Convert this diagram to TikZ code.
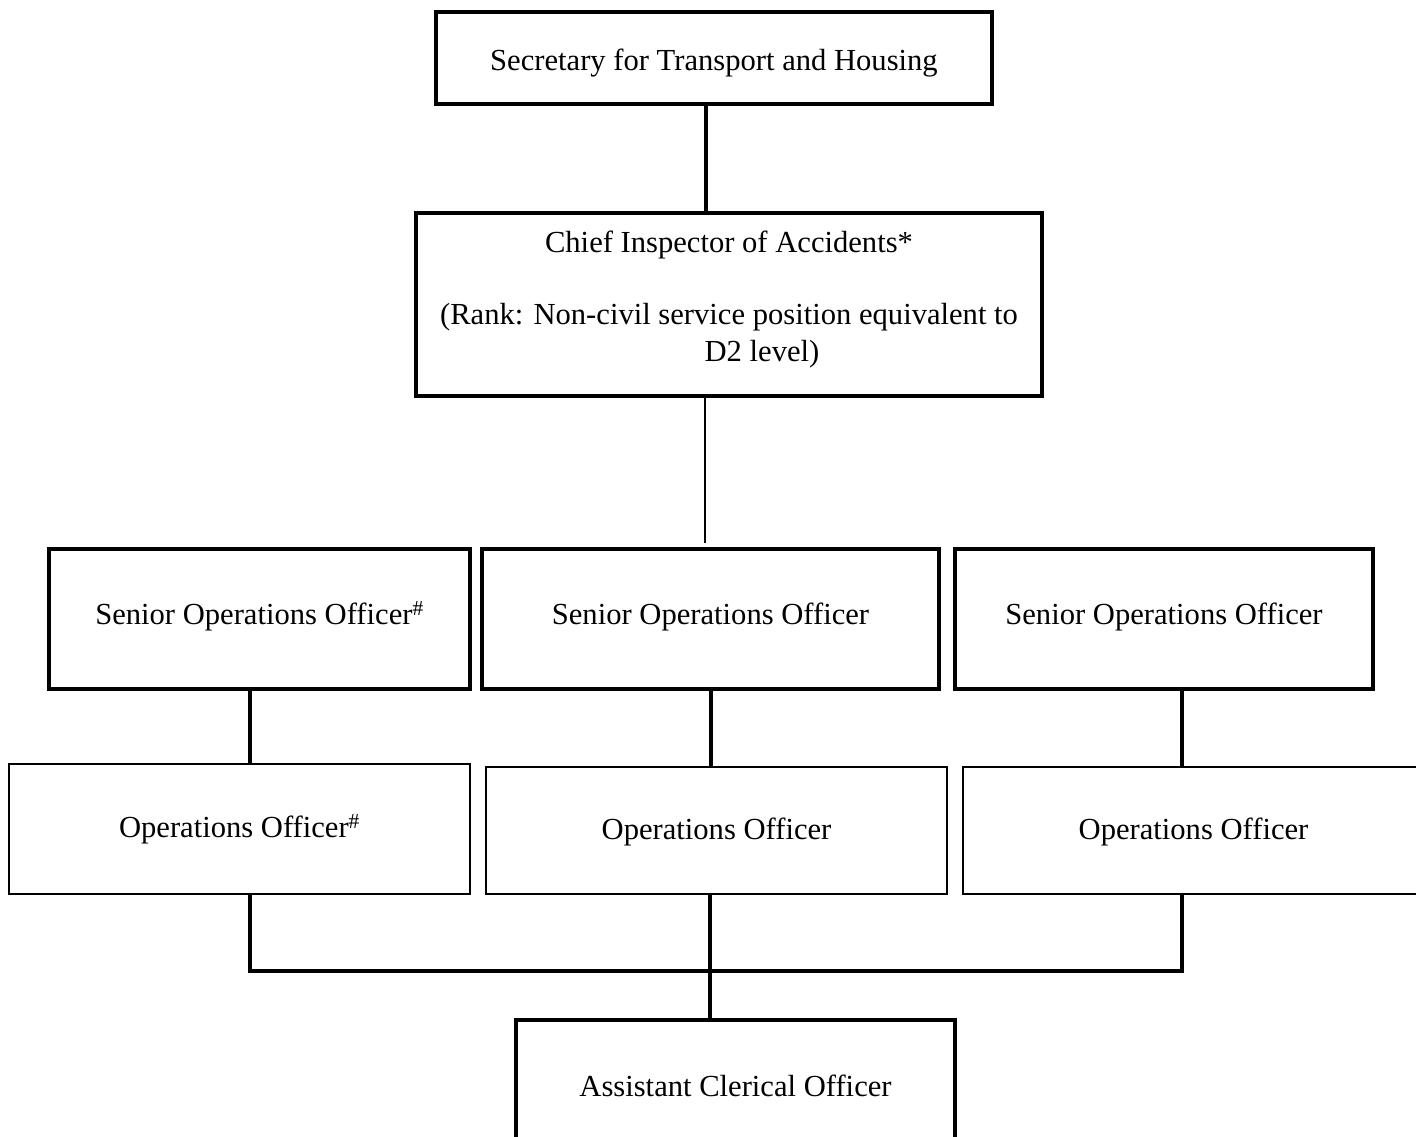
\documentclass[tikz,border=0pt]{standalone}
\usepackage{fontspec}
\setmainfont{Liberation Serif}
\begin{document}
\begin{tikzpicture}[x=1pt,y=-1pt,
  box/.style={draw, line width=3.2pt, rectangle, inner sep=0pt,
    font=\fontsize{30.6pt}{37pt}\selectfont},
  thinbox/.style={box, line width=2.5pt},
  label/.style={inner sep=0pt, align=center, font=\fontsize{30.6pt}{37pt}\selectfont},
  conn/.style={line width=3.2pt},
  thinconn/.style={line width=2.3pt}]
\useasboundingbox (0,0) rectangle (1416,1136);
\clip (0,0) rectangle (1416,1136);
\fill[white] (0,0) rectangle (1416,1136);

% x positions of vertical connectors
\coordinate (xa) at (706,0);
\coordinate (xb) at (705,0);
\coordinate (x1) at (250,0);
\coordinate (x2) at (711,0);
\coordinate (x3) at (1182,0);
\coordinate (x4) at (710,0);
\coordinate (bus) at (0,971);

% boxes
\node[box, minimum width=556, minimum height=92, text height=30pt, text depth=5.6pt] (sec) at (714,58) {Secretary for Transport and Housing};
\node[box, minimum width=626, minimum height=183] (chief) at (729,304.5) {};
\node[label] (chieftxt) at (729,299) {Chief Inspector of Accidents*\\[35pt]
  (Rank: Non-civil service position equivalent to\\ \hspace*{66pt}D2 level)};

\node[box, minimum width=421, minimum height=140, text height=21pt, text depth=10.6pt] (soo1) at (259.5,619) {Senior Operations Officer\textsuperscript{\#}};
\node[box, minimum width=457, minimum height=140, text height=21pt, text depth=10.6pt] (soo2) at (710.5,619) {Senior Operations Officer};
\node[box, minimum width=418, minimum height=140, text height=21pt, text depth=10.6pt] (soo3) at (1164,619) {Senior Operations Officer};

\node[thinbox, minimum width=461, minimum height=130] (oo1) at (239.5,829) {Operations Officer\textsuperscript{\#}};
\node[thinbox, minimum width=461, minimum height=127, text height=25pt, text depth=6.6pt] (oo2) at (716.5,830.5) {Operations Officer};
\node[thinbox, minimum width=461, minimum height=127, text height=25pt, text depth=6.6pt] (oo3) at (1193.5,830.5) {Operations Officer};

\node[box, minimum width=439, minimum height=132] (aco) at (735.5,1086) {Assistant Clerical Officer};

% connectors
\draw[conn] (sec.south -| xa) -- (chief.north -| xa);
\draw[thinconn, shorten >=4pt] (chief.south -| xb) -- (soo2.north -| xb);
\draw[conn] (soo1.south -| x1) -- (oo1.north -| x1);
\draw[conn] (soo2.south -| x2) -- (oo2.north -| x2);
\draw[conn] (soo3.south -| x3) -- (oo3.north -| x3);
\draw[conn] (oo1.south -| x1) -- (x1 |- bus) -- (x3 |- bus) -- (oo3.south -| x3);
\draw[conn] (oo2.south -| x4) -- (aco.north -| x4);
\end{tikzpicture}
\end{document}
